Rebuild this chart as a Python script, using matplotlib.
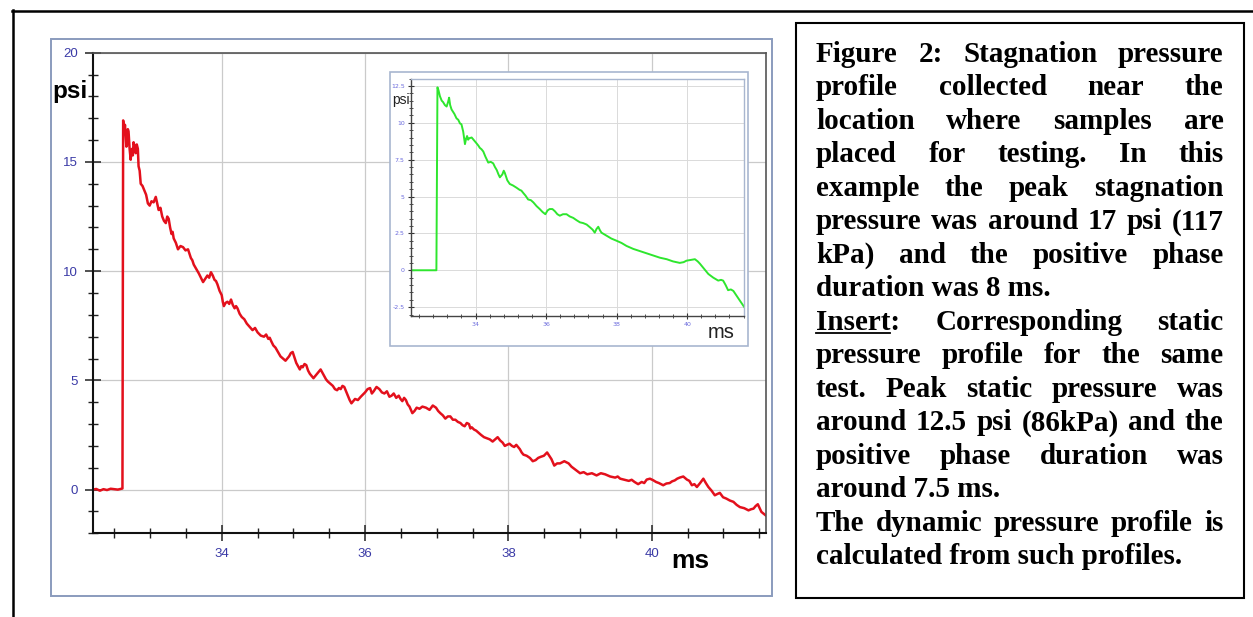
import matplotlib
matplotlib.use("Agg")
import matplotlib.pyplot as plt
from matplotlib.patches import Rectangle
from matplotlib.lines import Line2D
from matplotlib.ticker import MultipleLocator

# stagnation pressure trace (main plot), (ms, psi)
stag_points = [
    (32.20, 0.0), (32.25, 0.03), (32.30, -0.05), (32.35, 0.02), (32.40, -0.02),
    (32.45, 0.04), (32.50, 0.02), (32.55, 0.0), (32.615, 0.05), (32.625, 16.9),
    (32.64, 16.3), (32.65, 16.7), (32.66, 16.2), (32.67, 15.7), (32.68, 15.8),
    (32.69, 16.5), (32.70, 16.4), (32.715, 15.6), (32.73, 15.1), (32.74, 15.5),
    (32.75, 15.6), (32.76, 15.3), (32.77, 15.9), (32.785, 15.7), (32.80, 15.4),
    (32.815, 15.8), (32.83, 15.6), (32.84, 14.8), (32.855, 14.6), (32.87, 14.0),
    (32.895, 13.9), (32.92, 13.7), (32.945, 13.5), (32.97, 13.1), (32.995, 13.0),
    (33.02, 13.2), (33.05, 13.15), (33.08, 13.4), (33.10, 13.1), (33.12, 12.8),
    (33.145, 12.9), (33.17, 12.5), (33.195, 12.3), (33.22, 12.2), (33.24, 12.5),
    (33.26, 12.4), (33.28, 12.0), (33.30, 11.7), (33.315, 11.8), (33.33, 11.5),
    (33.36, 11.3), (33.39, 11.0), (33.425, 11.15), (33.46, 11.1), (33.495, 10.95),
    (33.53, 11.0), (33.55, 10.8), (33.57, 10.6), (33.59, 10.5), (33.61, 10.3),
    (33.645, 10.1), (33.68, 9.9), (33.71, 9.7), (33.74, 9.5), (33.77, 9.65),
    (33.80, 9.8), (33.825, 9.7), (33.85, 9.95), (33.875, 9.8), (33.90, 9.6),
    (33.92, 9.55), (33.94, 9.4), (33.97, 9.1), (34.00, 8.9), (34.015, 8.6),
    (34.03, 8.4), (34.055, 8.55), (34.08, 8.6), (34.105, 8.5), (34.13, 8.7),
    (34.155, 8.45), (34.18, 8.3), (34.20, 8.4), (34.22, 8.3), (34.25, 8.05),
    (34.28, 7.9), (34.315, 7.8), (34.35, 7.6), (34.39, 7.45), (34.43, 7.3),
    (34.465, 7.4), (34.50, 7.2), (34.545, 7.05), (34.59, 7.0), (34.62, 7.1),
    (34.65, 6.9), (34.67, 6.95), (34.69, 6.8), (34.72, 6.6), (34.75, 6.5),
    (34.785, 6.3), (34.82, 6.1), (34.855, 6.0), (34.89, 5.9), (34.915, 6.0),
    (34.94, 6.1), (34.965, 6.25), (34.99, 6.3), (35.015, 6.05), (35.04, 5.8),
    (35.065, 5.65), (35.09, 5.5), (35.11, 5.65), (35.13, 5.6), (35.155, 5.75),
    (35.18, 5.7), (35.205, 5.45), (35.23, 5.3), (35.255, 5.2), (35.28, 5.1),
    (35.305, 5.2), (35.33, 5.3), (35.355, 5.4), (35.38, 5.5), (35.405, 5.35),
    (35.43, 5.2), (35.455, 5.05), (35.48, 4.95), (35.515, 4.85), (35.55, 4.75),
    (35.58, 4.6), (35.61, 4.55), (35.635, 4.65), (35.66, 4.6), (35.685, 4.75),
    (35.71, 4.7), (35.735, 4.5), (35.76, 4.3), (35.785, 4.1), (35.81, 3.95),
    (35.835, 4.05), (35.86, 4.15), (35.90, 4.1), (35.94, 4.25), (35.97, 4.35),
    (36.00, 4.45), (36.035, 4.6), (36.07, 4.65), (36.095, 4.4), (36.12, 4.5),
    (36.16, 4.7), (36.20, 4.6), (36.235, 4.45), (36.27, 4.4), (36.305, 4.5),
    (36.34, 4.25), (36.37, 4.3), (36.40, 4.4), (36.435, 4.2), (36.47, 4.3),
    (36.495, 4.15), (36.52, 4.05), (36.545, 4.2), (36.57, 4.1), (36.595, 3.9),
    (36.62, 3.8), (36.64, 3.65), (36.66, 3.5), (36.69, 3.6), (36.72, 3.75),
    (36.76, 3.7), (36.80, 3.8), (36.85, 3.75), (36.90, 3.65), (36.945, 3.85),
    (36.99, 3.75), (37.02, 3.6), (37.05, 3.5), (37.085, 3.4), (37.12, 3.25),
    (37.155, 3.35), (37.19, 3.35), (37.225, 3.2), (37.26, 3.2), (37.295, 3.1),
    (37.33, 3.05), (37.36, 2.95), (37.39, 2.9), (37.42, 3.05), (37.45, 3.0),
    (37.47, 2.8), (37.49, 2.85), (37.52, 2.75), (37.55, 2.7), (37.585, 2.6),
    (37.62, 2.5), (37.66, 2.4), (37.70, 2.35), (37.74, 2.3), (37.78, 2.2),
    (37.815, 2.3), (37.85, 2.4), (37.885, 2.25), (37.92, 2.15), (37.95, 2.0),
    (37.98, 2.05), (38.015, 2.1), (38.05, 2.0), (38.08, 1.95), (38.11, 2.05),
    (38.135, 1.95), (38.16, 1.85), (38.185, 1.7), (38.21, 1.6), (38.255, 1.55),
    (38.30, 1.45), (38.34, 1.3), (38.38, 1.35), (38.415, 1.45), (38.45, 1.5),
    (38.495, 1.55), (38.54, 1.7), (38.57, 1.55), (38.60, 1.4), (38.62, 1.25),
    (38.64, 1.1), (38.68, 1.2), (38.72, 1.2), (38.78, 1.3), (38.84, 1.2),
    (38.88, 1.05), (38.92, 0.95), (38.96, 0.85), (39.00, 0.75), (39.05, 0.8),
    (39.10, 0.7), (39.165, 0.75), (39.23, 0.65), (39.29, 0.75), (39.35, 0.7),
    (39.42, 0.6), (39.49, 0.55), (39.525, 0.6), (39.56, 0.5), (39.62, 0.45),
    (39.68, 0.4), (39.72, 0.45), (39.76, 0.35), (39.81, 0.25), (39.86, 0.35),
    (39.895, 0.3), (39.93, 0.46), (39.975, 0.5), (40.02, 0.43), (40.06, 0.35),
    (40.10, 0.3), (40.13, 0.25), (40.16, 0.2), (40.205, 0.28), (40.25, 0.3),
    (40.285, 0.38), (40.32, 0.42), (40.355, 0.5), (40.39, 0.55), (40.44, 0.6),
    (40.49, 0.46), (40.525, 0.4), (40.56, 0.2), (40.595, 0.25), (40.63, 0.12),
    (40.675, 0.3), (40.72, 0.5), (40.755, 0.3), (40.79, 0.12), (40.835, -0.05),
    (40.88, -0.26), (40.915, -0.2), (40.95, -0.15), (40.995, -0.35), (41.04, -0.41),
    (41.09, -0.5), (41.14, -0.56), (41.185, -0.7), (41.23, -0.8), (41.29, -0.85),
    (41.35, -0.95), (41.385, -0.9), (41.42, -0.87), (41.45, -0.75), (41.48, -0.67),
    (41.505, -0.85), (41.53, -1.02), (41.56, -1.1), (41.59, -1.18),
]

# static pressure trace (insert)
static_points = [
    (32.17, 0.0), (32.50, 0.0), (32.89, 0.0), (32.92, 12.4), (32.95, 12.2),
    (32.99, 11.8), (33.04, 11.5), (33.08, 11.4), (33.13, 11.2), (33.18, 11.1),
    (33.22, 11.4), (33.25, 11.7), (33.28, 11.2), (33.32, 10.9), (33.36, 10.75),
    (33.40, 10.6), (33.46, 10.3), (33.51, 10.2), (33.56, 9.95), (33.60, 9.9),
    (33.65, 9.4), (33.70, 8.55), (33.73, 8.9), (33.76, 9.1), (33.79, 8.85),
    (33.82, 8.95), (33.89, 9.0), (33.96, 8.8), (34.03, 8.6), (34.08, 8.45),
    (34.12, 8.3), (34.17, 8.2), (34.22, 8.05), (34.28, 7.7), (34.36, 7.3),
    (34.43, 7.35), (34.50, 7.25), (34.55, 7.0), (34.60, 6.8), (34.65, 6.5),
    (34.69, 6.3), (34.76, 6.5), (34.80, 6.75), (34.83, 6.6), (34.90, 6.1),
    (34.97, 5.85), (35.06, 5.75), (35.16, 5.6), (35.25, 5.45), (35.30, 5.4),
    (35.35, 5.25), (35.42, 5.05), (35.49, 4.8), (35.57, 4.75), (35.64, 4.6),
    (35.73, 4.35), (35.82, 4.15), (35.90, 3.95), (35.98, 3.8), (36.04, 4.05),
    (36.10, 4.15), (36.18, 4.15), (36.25, 4.0), (36.32, 3.8), (36.39, 3.7),
    (36.48, 3.8), (36.58, 3.8), (36.67, 3.65), (36.77, 3.55), (36.86, 3.4),
    (36.96, 3.25), (37.05, 3.2), (37.15, 3.1), (37.25, 2.9), (37.32, 2.75),
    (37.38, 2.55), (37.43, 2.8), (37.48, 2.95), (37.53, 2.7), (37.57, 2.55),
    (37.64, 2.45), (37.71, 2.35), (37.85, 2.15), (38.00, 2.0), (38.14, 1.85),
    (38.28, 1.65), (38.47, 1.45), (38.66, 1.3), (38.85, 1.15), (39.04, 1.0),
    (39.23, 0.85), (39.42, 0.75), (39.60, 0.6), (39.79, 0.5), (39.90, 0.55),
    (39.98, 0.65), (40.10, 0.7), (40.22, 0.75), (40.30, 0.6), (40.36, 0.45),
    (40.48, 0.1), (40.60, -0.25), (40.74, -0.5), (40.88, -0.7), (40.96, -0.65),
    (41.02, -0.7), (41.09, -1.0), (41.16, -1.35), (41.24, -1.3), (41.31, -1.4),
    (41.45, -1.9), (41.62, -2.5),
]

stag_ms = [p[0] for p in stag_points]
stag_psi = [p[1] for p in stag_points]
static_ms = [p[0] for p in static_points]
static_psi = [p[1] for p in static_points]

main_xticks = [34, 36, 38, 40]
main_yticks = [0, 5, 10, 15, 20]
ins_yticks = [-2.5, 0, 2.5, 5, 7.5, 10, 12.5]
ins_ylabels = ['-2.5', '0', '2.5', '5', '7.5', '10', '12.5']

# caption text, one entry per printed line; True = justified line
caption = [
    ("Figure 2: Stagnation pressure", True),
    ("profile collected near the", True),
    ("location where samples are", True),
    ("placed for testing. In this", True),
    ("example the peak stagnation", True),
    ("pressure was around 17 psi (117", True),
    ("kPa) and the positive phase", True),
    ("duration was 8 ms.", False),
    ("Insert: Corresponding static", True),
    ("pressure profile for the same", True),
    ("test. Peak static pressure was", True),
    ("around 12.5 psi (86kPa) and the", True),
    ("positive phase duration was", True),
    ("around 7.5 ms.", False),
    ("The dynamic pressure profile is", True),
    ("calculated from such profiles.", False),
]

W, H = 1253, 617
fig = plt.figure(figsize=(W / 100, H / 100), dpi=100)


def fx(px):
    return px / W


def fy(py):
    return 1 - py / H


# outer page lines
fig.add_artist(Line2D([fx(12), 1], [fy(10.5), fy(10.5)], color='black', lw=1.8))
fig.add_artist(Line2D([fx(12.5), fx(12.5)], [fy(10), 0], color='black', lw=1.8))

# frame round the main plot
fig.add_artist(Rectangle((fx(50.7), fy(595.7)), fx(771.7) - fx(50.7), fy(39.3) - fy(595.7),
                         fill=False, ec='#8a9bbd', lw=1.4, transform=fig.transFigure))

blue = '#3a3aa6'

ax = fig.add_axes([fx(92.7), fy(533.3), fx(765.7) - fx(92.7), fy(52.7) - fy(533.3)])
ax.plot(stag_ms, stag_psi, color='#e3101c', lw=1.8)
ax.set_xlim(32.2, 41.59)
ax.set_ylim(-2, 20)
ax.set_xticks(main_xticks)
ax.set_yticks(main_yticks)
ax.xaxis.set_minor_locator(MultipleLocator(0.5))
ax.yaxis.set_minor_locator(MultipleLocator(1))
ax.grid(True, which='major', color='#cacaca', lw=0.9)
ax.tick_params(which='major', direction='inout', length=12, width=1.1, color='#222',
               labelcolor=blue, labelsize=9.5, pad=4.5)
ax.tick_params(which='minor', direction='inout', length=7.5, width=1.0, color='#222')
for lab in ax.get_xticklabels() + ax.get_yticklabels():
    lab.set_family('Liberation Sans')
for s in ['left', 'bottom']:
    ax.spines[s].set_color('#111')
    ax.spines[s].set_linewidth(1.5)
for s in ['top', 'right']:
    ax.spines[s].set_color('#555')
    ax.spines[s].set_linewidth(1.2)

fig.text(fx(52.5), fy(98), 'psi', fontsize=17.5, fontweight='bold',
         family='Liberation Sans', va='baseline', ha='left')
fig.text(fx(671.7), fy(568.3), 'ms', fontsize=19, fontweight='bold',
         family='Liberation Sans', va='baseline', ha='left')

# insert with the static pressure
fig.add_artist(Rectangle((fx(390), fy(346)), fx(748) - fx(390), fy(72.3) - fy(346),
                         fc='white', ec='#a8b6cf', lw=1.2, transform=fig.transFigure,
                         zorder=2))
axi = fig.add_axes([fx(411), fy(316), fx(744.3) - fx(411), fy(78.5) - fy(316)], zorder=3)
axi.plot(static_ms, static_psi, color='#2ee62e', lw=1.4)
axi.set_xlim(32.17, 41.62)
axi.set_ylim(-3.1, 13.0)
axi.set_xticks(main_xticks)
axi.set_yticks(ins_yticks)
axi.set_yticklabels(ins_ylabels)
axi.xaxis.set_minor_locator(MultipleLocator(0.4))
axi.yaxis.set_minor_locator(MultipleLocator(0.5))
axi.grid(True, which='major', color='#dadada', lw=0.7)
axi.tick_params(which='major', direction='inout', length=5, width=0.8, color='#333',
                labelcolor='#6b6bdd', labelsize=4.5, pad=2)
axi.tick_params(which='minor', direction='inout', length=3, width=0.6, color='#333')
for s in ['left', 'bottom']:
    axi.spines[s].set_color('#444')
    axi.spines[s].set_linewidth(1.0)
for s in ['top', 'right']:
    axi.spines[s].set_color('#a8b6cf')
    axi.spines[s].set_linewidth(1.0)

fig.text(fx(392.5), fy(100), 'psi', fontsize=10, family='Liberation Sans',
         va='center', ha='left', color='#222', zorder=5)
fig.text(fx(707.5), fy(333), 'ms', fontsize=14.5, family='Liberation Sans',
         va='center', ha='left', color='#222', zorder=5)

# caption box on the right
fig.add_artist(Rectangle((fx(795.5), fy(597.7)), fx(1244.3) - fx(795.5), fy(22.7) - fy(597.7),
                         fill=False, ec='black', lw=1.5, transform=fig.transFigure))

cap_font = dict(family='Liberation Serif', fontweight='bold', fontsize=21,
                va='baseline', ha='left')
renderer = fig.canvas.get_renderer()


def text_width(s):
    t = fig.text(0, 0, s, **cap_font)
    w = t.get_window_extent(renderer).width
    t.remove()
    return w


x0, x1 = 816, 1223.5
for i, (line, justify) in enumerate(caption):
    base = 61.7 + 33.5 * i
    if not justify:
        fig.text(fx(x0), fy(base), line, **cap_font)
        continue
    words = line.split()
    widths = [text_width(w) for w in words]
    gap = (x1 - x0 - sum(widths)) / (len(words) - 1)
    x = x0
    for w, wd in zip(words, widths):
        fig.text(fx(x), fy(base), w, **cap_font)
        x += wd + gap
    if line.startswith('Insert'):
        uw = text_width('Insert')
        fig.add_artist(Line2D([fx(x0), fx(x0 + uw)], [fy(base + 3.5), fy(base + 3.5)],
                              color='black', lw=1.3))

fig.savefig('out.png', dpi=100)
